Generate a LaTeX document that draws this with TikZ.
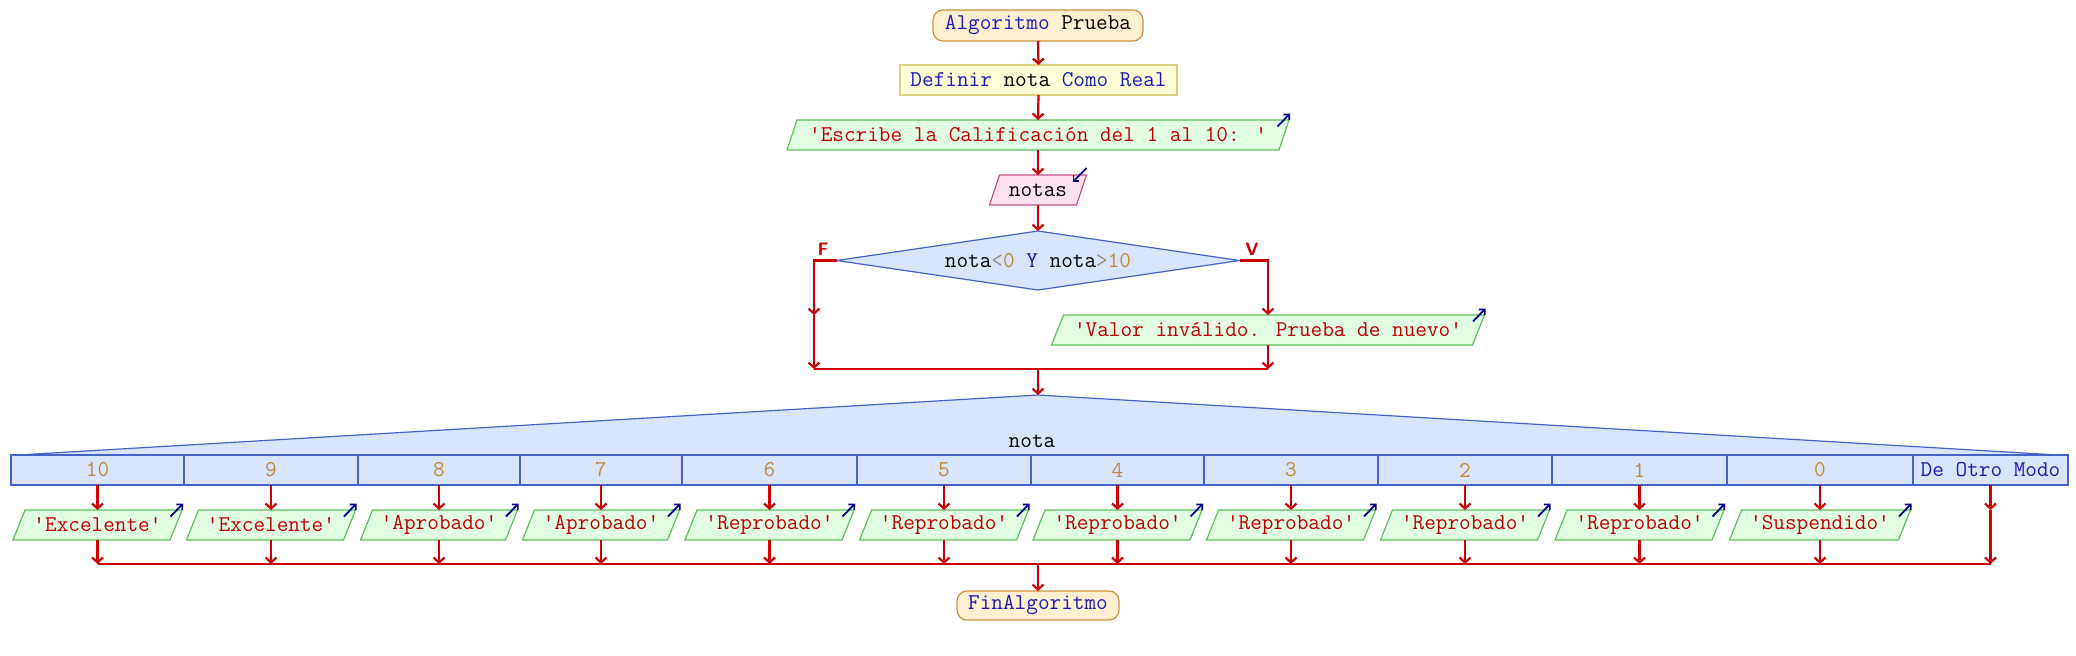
\documentclass[tikz,border=0pt]{standalone}
\usepackage{fontspec}
\usetikzlibrary{arrows.meta,calc}
\definecolor{kw}{HTML}{1C1CB4}
\definecolor{strc}{HTML}{C00000}
\definecolor{numc}{HTML}{C08838}
\definecolor{opc}{HTML}{9C8C78}
\definecolor{flowred}{HTML}{CC0000}
\definecolor{iconc}{HTML}{000090}
\definecolor{termfill}{HTML}{FFF0D2}
\definecolor{termdraw}{HTML}{CC9040}
\definecolor{deffill}{HTML}{FFFFD8}
\definecolor{defdraw}{HTML}{D8D080}
\definecolor{outfill}{HTML}{E2FEE2}
\definecolor{outdraw}{HTML}{5CC05C}
\definecolor{infill}{HTML}{FFE2F0}
\definecolor{indraw}{HTML}{C8508A}
\definecolor{bfill}{HTML}{D8E5FC}
\definecolor{bdraw}{HTML}{4462C8}
\pgfdeclarelayer{bg}
\pgfsetlayers{bg,main}
\newcommand\kwd[1]{\textcolor{kw}{#1}}
\newcommand\nmb[1]{\textcolor{numc}{#1}}
\newcommand\opr[1]{\textcolor{opc}{#1}}
\newcommand\paral[4]{\path[fill=#3, draw=#4, line width=0.6pt] ([xshift=-#2]#1.south west) -- ([xshift=#2]#1.north west) -- ([xshift=#2]#1.north east) -- ([xshift=-#2]#1.south east) -- cycle;}
\newcommand\outicon[2]{\draw[iconarr] ([xshift=#2-5.75pt,yshift=-3.25pt]#1.north east) -- ([xshift=#2+0.5pt,yshift=3.25pt]#1.north east);}
\tikzset{
  base/.style={font=\fontsize{11.3pt}{13pt}\selectfont\ttfamily, inner sep=0pt, outer sep=0pt, align=center},
  term/.style={base, draw=termdraw, fill=termfill, line width=0.6pt, rounded corners=5pt, minimum height=15.5pt},
  defbox/.style={base, draw=defdraw, fill=deffill, line width=0.6pt, minimum height=15pt},
  ptext/.style={base, minimum height=15pt},
  cell/.style={base, draw=bdraw, fill=bfill, line width=0.6pt, minimum height=15pt},
  flow/.style={draw=flowred, line width=1.1pt, -{Straight Barb[length=2.5pt,width=5.5pt]}},
  plainline/.style={draw=flowred, line width=1.1pt},
  iconarr/.style={draw=iconc, line width=0.9pt, -{Straight Barb[length=2pt,width=4pt]}},
  lbl/.style={text=flowred, font=\sffamily\bfseries\fontsize{9pt}{10pt}\selectfont, inner sep=0pt}
}
\begin{document}
\begin{tikzpicture}[x=0.5pt,y=-0.5pt]
\useasboundingbox (0,0) rectangle (2076,655);
\begin{pgfonlayer}{bg}
\fill[white] (0,0) rectangle (2076,655);
\end{pgfonlayer}

% main flow
\node[term, minimum width=105pt] (start) at (1038,25.5) {\kwd{Algoritmo} Prueba};
\node[defbox, minimum width=138.5pt] (def) at (1038.5,80) {\kwd{Definir} nota \kwd{Como} \kwd{Real}};
\node[ptext, minimum width=246pt, text=strc] (esc) at (1038,135) {'Escribe la Calificación del 1 al 10: '};
\node[ptext, minimum width=43.5pt] (lee) at (1038,190) {notas};
\node[base, minimum width=201.5pt, minimum height=29.5pt] (dia) at (1038,260.5) {nota\opr{<}\nmb{0} \kwd{Y} nota\opr{>}\nmb{10}};
\node[ptext, minimum width=210.5pt, text=strc] (valor) at (1268,330) {'Valor inválido. Prueba de nuevo'};

\begin{pgfonlayer}{bg}
\paral{esc}{2.5pt}{outfill}{outdraw}
\paral{lee}{2.5pt}{infill}{indraw}
\paral{valor}{3pt}{outfill}{outdraw}
\path[fill=bfill, draw=bdraw, line width=0.6pt] (dia.north) -- (dia.east) -- (dia.south) -- (dia.west) -- cycle;
\end{pgfonlayer}

\outicon{esc}{2.5pt}
\outicon{valor}{3pt}
\draw[iconarr] ([xshift=2.5pt,yshift=3.5pt]lee.north east) -- ([xshift=-4.5pt,yshift=-3.5pt]lee.north east);

\draw[flow] (start.south) -- (def.north);
\draw[flow] (def.south) -- (esc.north);
\draw[flow] (esc.south) -- (lee.north);
\draw[flow] (lee.south) -- (dia.north);

% branches
\coordinate (fMid) at (814,315);
\coordinate (fBot) at (814,369);
\coordinate (vBot) at (1268,369);
\coordinate (mTop) at (1038,369);
\coordinate (apex) at (1038,395);
\node[lbl] (lF) at (823,249) {F};
\node[lbl] (lV) at (1252,249) {V};
\draw[flow] (dia.west) -| (fMid);
\draw[flow] (fMid) -- (fBot);
\draw[flow] (dia.east) -| (valor.north);
\draw[flow] (valor.south) -- (vBot);
\draw[plainline] (fBot) -- (vBot);
\draw[flow] (mTop) -- (apex);

% switch
\coordinate (triL) at (18,455);
\coordinate (triR) at (2058,455);
\begin{pgfonlayer}{bg}
\path[fill=bfill, draw=bdraw, line width=0.6pt] (triL) -- (apex) -- (triR);
\end{pgfonlayer}
\node[base] (sel) at (1032,441) {nota};

\foreach \n/\cx/\w/\bw/\t/\s in {
  10/97.5/86.5/78.5/10/'Excelente',
  9/271/87/78.5/9/'Excelente',
  8/439/81/72.5/8/'Aprobado',
  7/601/81/72.5/7/'Aprobado',
  6/769.5/87.5/78.5/6/'Reprobado',
  5/944/87/78.5/5/'Reprobado',
  4/1117.5/86.5/78.5/4/'Reprobado',
  3/1291/87/78.5/3/'Reprobado',
  2/1465/87/78.5/2/'Reprobado',
  1/1639.5/87.5/78.5/1/'Reprobado',
  0/1820/93/84.5/0/'Suspendido'}{
  \node[cell, minimum width=\w pt] (c\n) at (\cx,470) {\nmb{\t}};
  \node[ptext, text=strc, minimum width=\bw pt] (o\n) at (\cx,525) {\s};
  \begin{pgfonlayer}{bg}
  \paral{o\n}{3pt}{outfill}{outdraw}
  \end{pgfonlayer}
  \outicon{o\n}{3pt}
}
\node[cell, minimum width=77.5pt] (cd) at (1990.5,470) {\kwd{De Otro Modo}};

% merge
\coordinate (mL) at (97.5,564);
\coordinate (mC) at (1038,564);
\coordinate (dMid) at (1990.5,510);
\node[term, minimum width=81pt, minimum height=14.5pt] (fin) at (1038,605.5) {\kwd{FinAlgoritmo}};

\foreach \n in {10,9,8,7,6,5,4,3,2,1,0}{
  \draw[flow] (c\n.south) -- (o\n.north);
  \draw[flow] (o\n.south) -- (o\n.south |- mL);
}
\draw[flow] (cd.south) -- (dMid);
\draw[flow] (dMid) -- (dMid |- mL);
\draw[plainline] (mL) -- (dMid |- mL);
\draw[flow] (mC) -- (fin.north);
\end{tikzpicture}
\end{document}
